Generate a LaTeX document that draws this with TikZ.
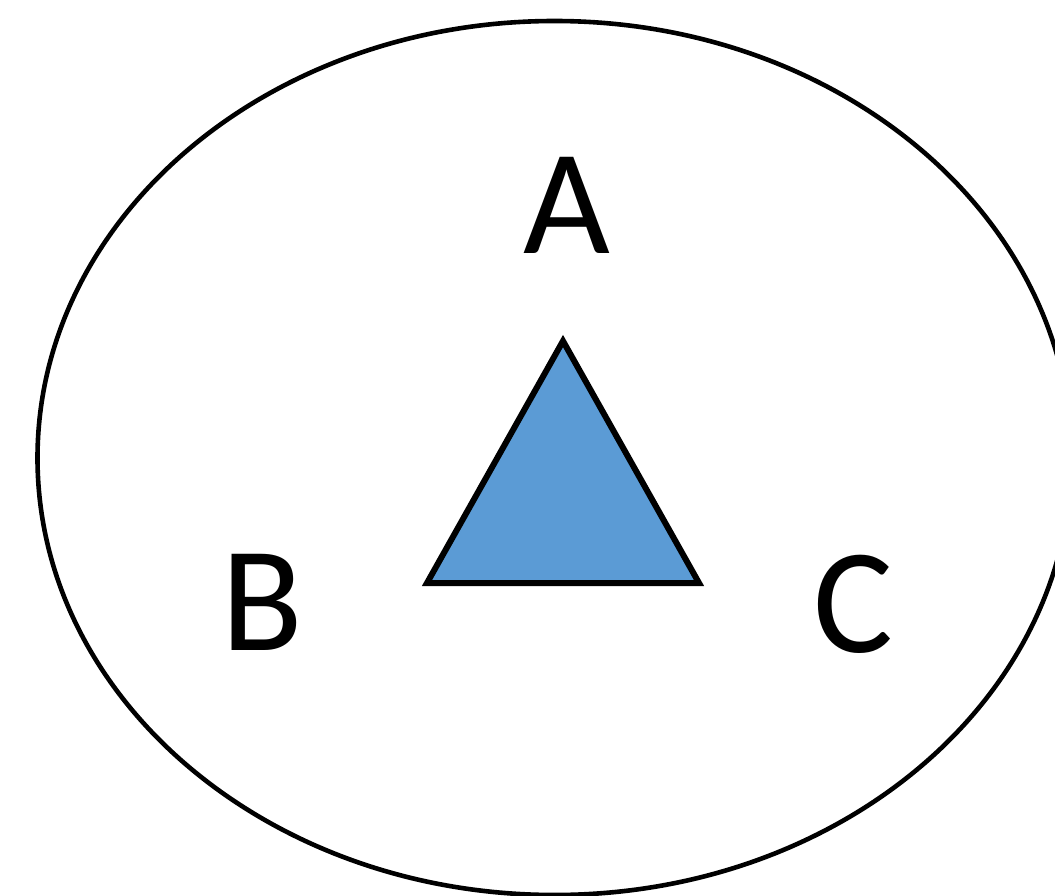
\documentclass[tikz,border=0pt]{standalone}
\usepackage{fontspec}
\setmainfont{Carlito}
\definecolor{triblue}{RGB}{91,155,213}
\begin{document}
\begin{tikzpicture}[x=1pt,y=-1pt,
  outer/.style={draw=black,line width=4.6pt},
  tri/.style={draw=black,fill=triblue,line width=6pt,line join=miter},
  lbl/.style={anchor=base,inner sep=0pt,font=\fontsize{150}{150}\selectfont}]
\useasboundingbox (0,0) rectangle (1055,896);
\clip (0,0) rectangle (1055,896);
\fill[white] (0,0) rectangle (1055,896);
\draw[outer] (554.5,458) ellipse [x radius=517, y radius=437];
\coordinate (ta) at (563,341);
\coordinate (tb) at (427,583);
\coordinate (tc) at (699,583);
\draw[tri] (ta) -- (tb) -- (tc) -- cycle;
\node[lbl] (A) at (567,254) {A};
\node[lbl] (B) at (262,650) {B};
\node[lbl] (C) at (853,652) {C};
\end{tikzpicture}
\end{document}
